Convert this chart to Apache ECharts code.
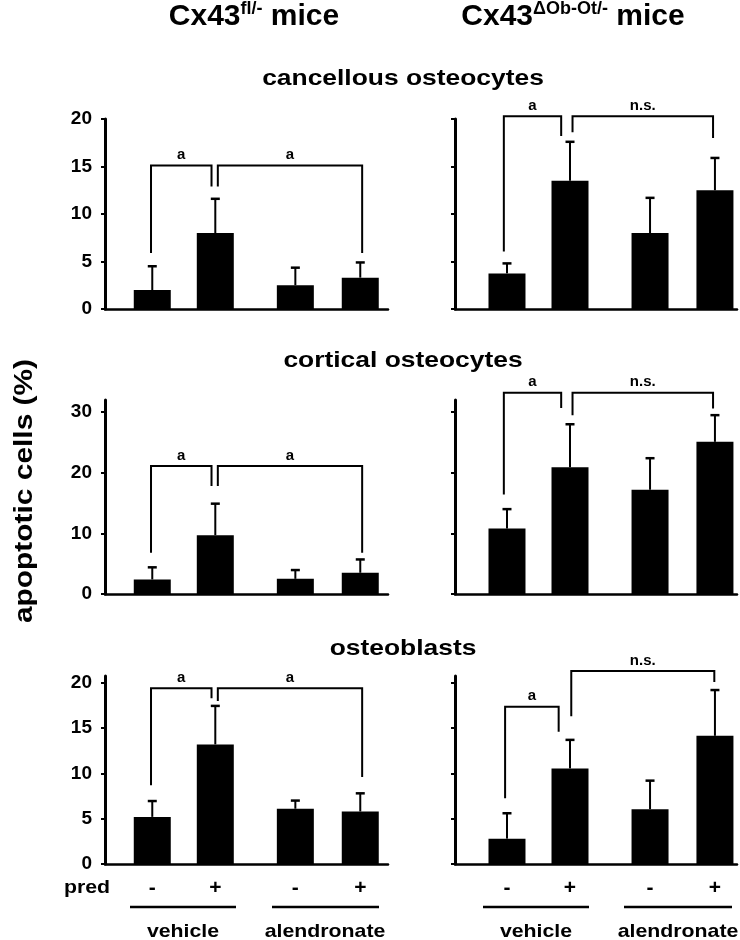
<!DOCTYPE html>
<html>
<head>
<meta charset="utf-8">
<title>apoptotic cells</title>
<script src="https://cdn.jsdelivr.net/npm/echarts@6/dist/echarts.min.js"></script>
<style>
	html, body {margin: 0; padding: 0; background: #fff;}
	#main {width: 740px; height: 940px;}
</style>
</head>
<body>
<div id="main"></div>
<script>
// bar positions on the x axis: vehicle -/+ , alendronate -/+
var positions = [1, 2, 3.27, 4.3];
var predLabels = ['-', '+', '-', '+'];
var groupLabels = ['vehicle', 'alendronate'];
var rowTitles = ['cancellous osteocytes', 'cortical osteocytes', 'osteoblasts'];
var ticksCancellous = [0, 5, 10, 15, 20];
var ticksCortical = [0, 10, 20, 30];
var ticksBlasts = [0, 5, 10, 15, 20];

// cancellous osteocytes (mean, SD)
var cancFlMean = [2.0, 8.0, 2.5, 3.3];
var cancFlSd = [2.5, 3.6, 1.85, 1.6];
var cancKoMean = [3.75, 13.5, 8.0, 12.5];
var cancKoSd = [1.05, 4.1, 3.7, 3.4];
// cortical osteocytes
var cortFlMean = [2.4, 9.7, 2.5, 3.5];
var cortFlSd = [2.0, 5.2, 1.45, 2.2];
var cortKoMean = [10.8, 20.9, 17.2, 25.1];
var cortKoSd = [3.2, 7.1, 5.2, 4.4];
// osteoblasts
var blastFlMean = [5.2, 13.2, 6.1, 5.8];
var blastFlSd = [1.75, 4.25, 0.9, 2.0];
var blastKoMean = [2.8, 10.55, 6.05, 14.15];
var blastKoSd = [2.8, 3.15, 3.15, 5.05];

// brackets: [x left, y left end, x right, y right end, y top]
var cancFlBr = [[0.98, 5.9, 1.94, 12.9, 15.1], [2.04, 12.9, 4.33, 5.9, 15.1]];
var cancKoBr = [[0.95, 6.06, 1.86, 18.2, 20.3], [2.04, 18.6, 4.27, 18.0, 20.3]];
var cortFlBr = [[0.98, 6.8, 1.94, 17.8, 21.1], [2.04, 17.8, 4.33, 6.8, 21.1]];
var cortKoBr = [[0.95, 16.4, 1.86, 30.7, 33.2], [2.04, 29.5, 4.27, 30.6, 33.2]];
var blastFlBr = [[0.98, 8.7, 1.94, 18.3, 19.4], [2.04, 18.0, 4.33, 9.6, 19.4]];
var blastKoBr = [[0.97, 7.25, 1.82, 14.6, 17.35], [2.02, 16.3, 4.29, 20.1, 21.3]];
var flBrLabels = ['a', 'a'];
var koBrLabels = ['a', 'n.s.'];

const FONT = '"Liberation Sans", Arial, Helvetica, sans-serif';
const chart = echarts.init(document.getElementById('main'));

// layout of the 3 x 2 panels
var gridTop = [119, 400, 676], gridH = [190, 194, 188], yMax = [20, 32, 20.75];
var rowTicks = [ticksCancellous, ticksCortical, ticksBlasts];
var gridLeft = [105, 455], gridW = [283, 282], xMin = [0.25, 0.175], xMax = [4.74, 4.65];

var panels = [
	{mean: cancFlMean, sd: cancFlSd, br: cancFlBr, lab: flBrLabels},
	{mean: cancKoMean, sd: cancKoSd, br: cancKoBr, lab: koBrLabels},
	{mean: cortFlMean, sd: cortFlSd, br: cortFlBr, lab: flBrLabels},
	{mean: cortKoMean, sd: cortKoSd, br: cortKoBr, lab: koBrLabels},
	{mean: blastFlMean, sd: blastFlSd, br: blastFlBr, lab: flBrLabels},
	{mean: blastKoMean, sd: blastKoSd, br: blastKoBr, lab: koBrLabels}
];

var grids = [], xAxes = [], yAxes = [], series = [];

panels.forEach(function (p, i) {
	var row = Math.floor(i / 2), side = i % 2;
	grids.push({left: gridLeft[side], top: gridTop[row], width: gridW[side], height: gridH[row]});
	xAxes.push({
		gridIndex: i, type: 'value', min: xMin[side], max: xMax[side],
		axisLine: {show: true, onZero: false, lineStyle: {color: '#000', width: 2.5}},
		axisTick: {show: false}, axisLabel: {show: false}, splitLine: {show: false}
	});
	yAxes.push({
		gridIndex: i, type: 'value', min: 0, max: yMax[row],
		axisLine: {show: true, lineStyle: {color: '#000', width: 3}},
		axisTick: {show: true, length: 4, customValues: rowTicks[row], lineStyle: {color: '#000', width: 2}},
		axisLabel: {
			show: side === 0, customValues: rowTicks[row], margin: 13,
			color: '#000', fontSize: 19, fontWeight: 'bold', fontFamily: FONT
		},
		splitLine: {show: false}
	});

	// bars
	series.push({
		type: 'bar', xAxisIndex: i, yAxisIndex: i, barWidth: 37, silent: true,
		itemStyle: {color: '#000'},
		data: positions.map(function (x, j) { return [x, p.mean[j]]; })
	});

	// error bars (upper only)
	series.push({
		type: 'custom', xAxisIndex: i, yAxisIndex: i, silent: true, clip: false,
		encode: {x: 0, y: 1},
		data: positions.map(function (x, j) { return [x, p.mean[j], p.sd[j]]; }),
		renderItem: function (params, api) {
			var x = api.value(0), m = api.value(1), s = api.value(2);
			var a = api.coord([x, m]), b = api.coord([x, m + s]);
			return {type: 'group', children: [
				{type: 'line', shape: {x1: a[0], y1: a[1], x2: b[0], y2: b[1]}, style: {stroke: '#000', lineWidth: 2}},
				{type: 'line', shape: {x1: b[0] - 4.5, y1: b[1], x2: b[0] + 4.5, y2: b[1]}, style: {stroke: '#000', lineWidth: 2.5}}
			]};
		}
	});

	// significance brackets
	series.push({
		type: 'custom', xAxisIndex: i, yAxisIndex: i, silent: true, clip: false,
		encode: {x: [0, 2], y: [1, 3, 4]},
		data: p.br,
		renderItem: function (params, api) {
			var xl = api.value(0), yl = api.value(1), xr = api.value(2), yr = api.value(3), yt = api.value(4);
			var p1 = api.coord([xl, yl]), p2 = api.coord([xl, yt]), p3 = api.coord([xr, yt]), p4 = api.coord([xr, yr]);
			return {type: 'group', children: [
				{type: 'polyline', shape: {points: [p1, p2, p3, p4]}, style: {stroke: '#000', lineWidth: 2, fill: null}},
				{type: 'text', x: (p2[0] + p3[0]) / 2, y: p2[1] - 3, style: {
					text: p.lab[params.dataIndex], fill: '#000', font: 'bold 15px ' + FONT,
					align: 'center', verticalAlign: 'bottom'
				}}
			]};
		}
	});

	// pred -/+ labels under the bottom row
	if (row === 2) {
		series.push({
			type: 'custom', xAxisIndex: i, yAxisIndex: i, silent: true, clip: false,
			encode: {x: 0, y: 1},
			data: positions.map(function (x) { return [x, 0]; }),
			renderItem: function (params, api) {
				var c = api.coord([api.value(0), 0]);
				return {type: 'text', x: c[0], y: c[1] + 24, style: {
					text: predLabels[params.dataIndex], fill: '#000', font: 'bold 21px ' + FONT,
					align: 'center', verticalAlign: 'middle'
				}};
			}
		});
	}
});

function txt(text, x, y, size, sx, rot) {
	return {
		type: 'text', x: x, y: y, scaleX: sx || 1, rotation: rot || 0, silent: true,
		style: {text: text, fill: '#000', font: 'bold ' + size + 'px ' + FONT, align: 'center', verticalAlign: 'middle'}
	};
}
function hline(x1, x2, y) {
	return {type: 'line', silent: true, shape: {x1: x1, y1: y, x2: x2, y2: y}, style: {stroke: '#000', lineWidth: 2.5}};
}
function title(main, sup, x) {
	return {
		type: 'text', x: x, y: 17, silent: true,
		style: {
			text: '{m|' + main + '}{s|' + sup + '}{m| mice}',
			align: 'center', verticalAlign: 'middle',
			rich: {
				m: {font: 'bold 30px ' + FONT, fill: '#000', lineHeight: 34},
				s: {font: 'bold 18px ' + FONT, fill: '#000', verticalAlign: 'top', lineHeight: 20}
			}
		}
	};
}

var graphics = [
	title('Cx43', 'fl/-', 254),
	title('Cx43', '\u0394Ob-Ot/-', 573),
	txt(rowTitles[0], 403, 79, 22, 1.2),
	txt(rowTitles[1], 403, 361, 22, 1.2),
	txt(rowTitles[2], 403, 649, 22, 1.2),
	txt('apoptotic cells (%)', 25, 491, 26, 1.15, Math.PI / 2),
	txt('pred', 87, 888, 19, 1.12),
	hline(130, 236, 907), hline(272, 379, 907),
	hline(483, 589, 907), hline(624, 732, 907),
	txt(groupLabels[0], 183, 932, 18.5, 1.15),
	txt(groupLabels[1], 325, 932, 18.5, 1.15),
	txt(groupLabels[0], 536, 932, 18.5, 1.15),
	txt(groupLabels[1], 678, 932, 18.5, 1.15)
];

chart.setOption({
	animation: false,
	backgroundColor: '#fff',
	grid: grids,
	xAxis: xAxes,
	yAxis: yAxes,
	series: series,
	graphic: graphics
});
</script>
</body>
</html>
